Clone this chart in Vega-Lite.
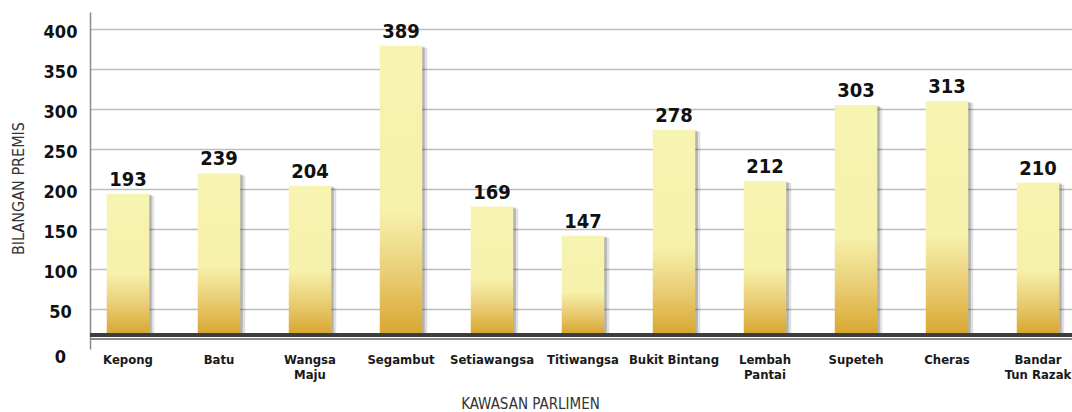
{
  "$schema": "https://vega.github.io/schema/vega-lite/v6.json",
  "autosize": "none",
  "width": 982,
  "height": 337,
  "padding": {"left": 90, "top": 12, "right": 0, "bottom": 63},
  "background": "#ffffff",
  "config": {
    "view": {"stroke": null},
    "font": "'DejaVu Sans Condensed', 'Liberation Sans', sans-serif"
  },
  "data": {
    "values": [
      {"kawasan": "Kepong", "bilangan": 193, "tinggi": 194},
      {"kawasan": "Batu", "bilangan": 239, "tinggi": 219.5},
      {"kawasan": "Wangsa Maju", "bilangan": 204, "tinggi": 204},
      {"kawasan": "Segambut", "bilangan": 389, "tinggi": 379},
      {"kawasan": "Setiawangsa", "bilangan": 169, "tinggi": 178},
      {"kawasan": "Titiwangsa", "bilangan": 147, "tinggi": 141.5},
      {"kawasan": "Bukit Bintang", "bilangan": 278, "tinggi": 274},
      {"kawasan": "Lembah Pantai", "bilangan": 212, "tinggi": 210},
      {"kawasan": "Supeteh", "bilangan": 303, "tinggi": 305},
      {"kawasan": "Cheras", "bilangan": 313, "tinggi": 310},
      {"kawasan": "Bandar Tun Razak", "bilangan": 210, "tinggi": 208}
    ]
  },
  "encoding": {
    "x": {
      "field": "kawasan",
      "type": "nominal",
      "sort": null,
      "scale": {"paddingInner": 0.533, "paddingOuter": 0.184, "range": [0, 986]},
      "axis": {
        "title": "KAWASAN PARLIMEN",
        "titleFont": "'DejaVu Sans Condensed', 'Liberation Sans', sans-serif",
        "titleFontWeight": "normal",
        "titleFontSize": 15,
        "titleColor": "#333333",
        "titleX": 440,
        "titleY": 54,
        "titleBaseline": "middle",
        "labelAngle": 0,
        "labelFont": "'DejaVu Sans Condensed', 'Liberation Sans', sans-serif",
        "labelFontWeight": "bold",
        "labelFontSize": 13,
        "labelColor": "#1a1a1a",
        "labelLineHeight": 15,
        "labelPadding": 4,
        "labelBaseline": "top",
        "labelExpr": "indexof(['Wangsa Maju','Lembah Pantai','Bandar Tun Razak'], datum.label) >= 0 ? [substring(datum.label, 0, indexof(datum.label, ' ')), substring(datum.label, indexof(datum.label, ' ') + 1)] : datum.label",
        "ticks": false,
        "domain": false,
        "grid": false
      }
    }
  },
  "layer": [
    {
      "mark": {"type": "rect", "color": "#3d3d3d"},
      "encoding": {
        "x": null,
        "y": {"datum": 20, "type": "quantitative", "scale": {"domain": [0, 421.25], "zero": false, "nice": false}},
        "y2": {"datum": 15}
      }
    },
    {
      "mark": {"type": "rule", "color": "#8a8a8a", "strokeWidth": 1.5},
      "encoding": {
        "x": null,
        "y": {"datum": 12.5, "type": "quantitative"}
      }
    },
    {
      "mark": {"type": "bar", "color": "#000000", "opacity": 0.12, "xOffset": 5, "yOffset": 2},
      "encoding": {
        "y": {"field": "tinggi", "type": "quantitative"},
        "y2": {"datum": 20}
      }
    },
    {
      "mark": {"type": "bar", "color": "#000000", "opacity": 0.2, "xOffset": 2.5, "yOffset": 1},
      "encoding": {
        "y": {"field": "tinggi", "type": "quantitative"},
        "y2": {"datum": 20}
      }
    },
    {
      "mark": {
        "type": "bar",
        "color": {
          "gradient": "linear",
          "x1": 0, "y1": 0, "x2": 0, "y2": 1,
          "stops": [
            {"offset": 0, "color": "#f7f3b1"},
            {"offset": 0.58, "color": "#f6f1ab"},
            {"offset": 0.8, "color": "#e9cc72"},
            {"offset": 1, "color": "#d8a832"}
          ]
        }
      },
      "encoding": {
        "y": {
          "field": "tinggi",
          "type": "quantitative",
          "scale": {"domain": [0, 421.25], "zero": false, "nice": false},
          "axis": {
            "title": "BILANGAN PREMIS",
            "titleFont": "'DejaVu Sans Condensed', 'Liberation Sans', sans-serif",
            "titleFontWeight": "normal",
            "titleFontSize": 16,
            "titleColor": "#333333",
            "titleAngle": -90,
            "titleX": -72,
            "titleY": 176,
            "titleAlign": "center",
            "titleBaseline": "middle",
            "values": [0, 50, 100, 150, 200, 250, 300, 350, 400],
            "labelFont": "'DejaVu Sans Condensed', 'Liberation Sans', sans-serif",
            "labelFontWeight": "bold",
            "labelFontSize": 18,
            "labelColor": "#111111",
            "labelAlign": "center",
            "labelPadding": 30,
            "labelOffset": {"condition": {"test": "datum.value === 0", "value": 8}, "value": 3},
            "ticks": false,
            "tickSize": 0,
            "domain": true,
            "domainColor": "#8a8a8a",
            "domainWidth": 1.5,
            "grid": true,
            "gridColor": "#bdbdbd",
            "gridWidth": 1.5,
            "gridOpacity": {"condition": {"test": "datum.value === 0", "value": 0}, "value": 1}
          }
        },
        "y2": {"datum": 20}
      }
    },
    {
      "mark": {
        "type": "text",
        "baseline": "bottom",
        "dy": -4,
        "font": "'DejaVu Sans Condensed', 'Liberation Sans', sans-serif",
        "fontWeight": "bold",
        "fontSize": 20,
        "color": "#111111"
      },
      "encoding": {
        "y": {"field": "tinggi", "type": "quantitative"},
        "text": {"field": "bilangan", "type": "quantitative"}
      }
    }
  ]
}
